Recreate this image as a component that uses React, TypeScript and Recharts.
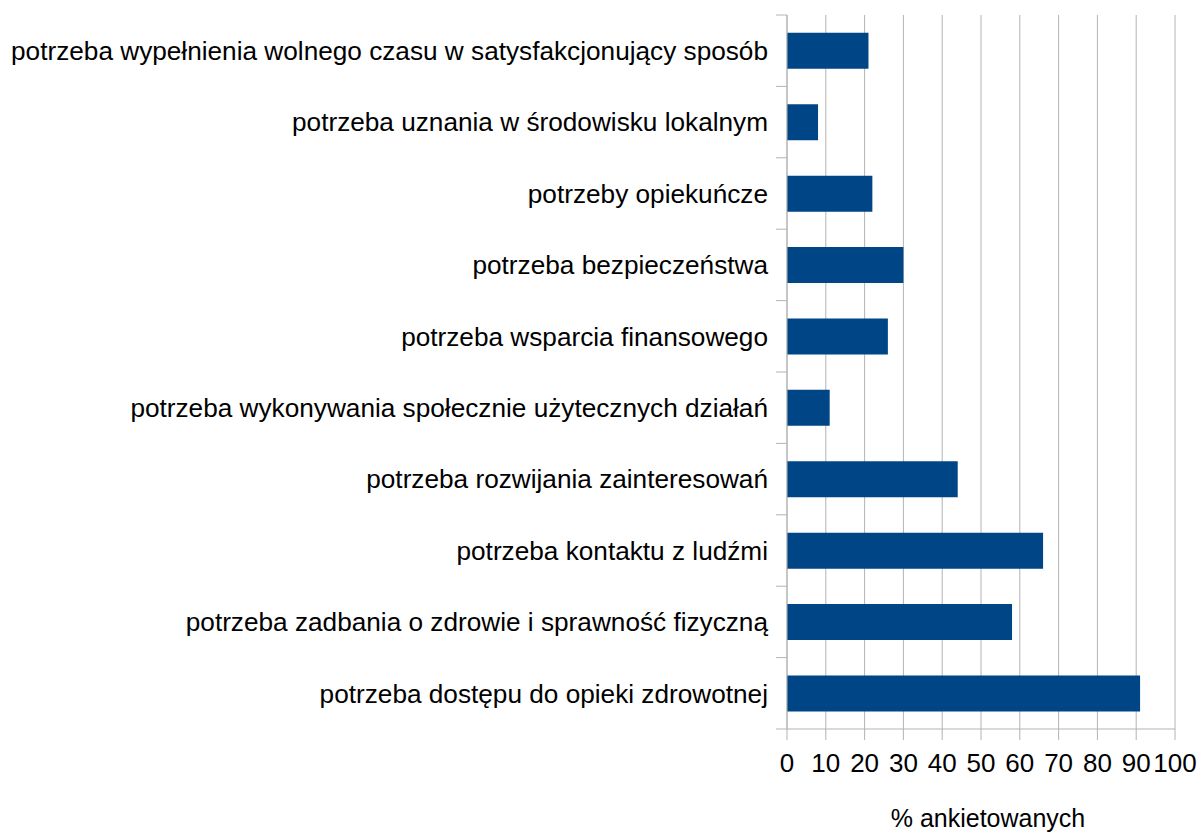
import React from 'react';
import { BarChart, Bar, XAxis, YAxis, CartesianGrid, Label } from 'recharts';

const categories = [
  'potrzeba wypełnienia wolnego czasu w satysfakcjonujący sposób',
  'potrzeba uznania w środowisku lokalnym',
  'potrzeby opiekuńcze',
  'potrzeba bezpieczeństwa',
  'potrzeba wsparcia finansowego',
  'potrzeba wykonywania społecznie użytecznych działań',
  'potrzeba rozwijania zainteresowań',
  'potrzeba kontaktu z ludźmi',
  'potrzeba zadbania o zdrowie i sprawność fizyczną',
  'potrzeba dostępu do opieki zdrowotnej',
];
const percentValues = [21, 8, 22, 30, 26, 11, 44, 66, 58, 91];
const xTicks = [0, 10, 20, 30, 40, 50, 60, 70, 80, 90, 100];
const xTitle = '% ankietowanych';

const data = categories.map((name, i) => ({ name, value: percentValues[i] }));

const GRID = '#b3b3b3';
const BAR = '#004586';
const FONT = '"Liberation Sans", Arial, sans-serif';

// label at band centre + small tick at band boundary
const CategoryTick = (props: any) => {
  const { x, y, payload, index, visibleTicksCount } = props;
  const half = payload.offset || 0;
  const axisX = x + 8 + 11;
  return (
    <g>
      <line x1={axisX - 11} x2={axisX} y1={y - half} y2={y - half} stroke={GRID} />
      {index === visibleTicksCount - 1 && (
        <line x1={axisX - 11} x2={axisX} y1={y + half} y2={y + half} stroke={GRID} />
      )}
      <text x={x} y={y} dy="0.355em" textAnchor="end" fill="#000" fontSize={26.2} fontFamily={FONT}>
        {payload.value}
      </text>
    </g>
  );
};

export default function App() {
  return (
    <div style={{ position: 'absolute', left: 0, top: 0, background: '#fff' }}>
      <BarChart
        width={1198}
        height={834}
        data={data}
        layout="vertical"
        margin={{ top: 15, right: 23, bottom: 0, left: 0 }}
        barCategoryGap="25%"
        style={{ fontFamily: FONT }}
      >
        <CartesianGrid horizontal={false} stroke={GRID} strokeWidth={1} />
        <XAxis
          type="number"
          domain={[0, 100]}
          ticks={xTicks}
          interval={0}
          height={105}
          tickSize={11}
          tickMargin={14}
          axisLine={{ stroke: GRID }}
          tickLine={{ stroke: GRID }}
          tick={{ fill: '#000', fontSize: 26, fontFamily: FONT }}
        >
          <Label value={xTitle} position="insideBottom" offset={7} dx={7} fill="#000" fontSize={25} fontFamily={FONT} />
        </XAxis>
        <XAxis
          xAxisId="top"
          orientation="top"
          type="number"
          domain={[0, 100]}
          height={0}
          tick={false}
          tickLine={false}
          axisLine={{ stroke: GRID }}
        />
        <YAxis
          type="category"
          dataKey="name"
          width={787}
          tickSize={11}
          tickMargin={8}
          interval={0}
          tickLine={false}
          axisLine={{ stroke: GRID }}
          tick={<CategoryTick />}
        />
        <Bar dataKey="value" fill={BAR} isAnimationActive={false} />
      </BarChart>
    </div>
  );
}
